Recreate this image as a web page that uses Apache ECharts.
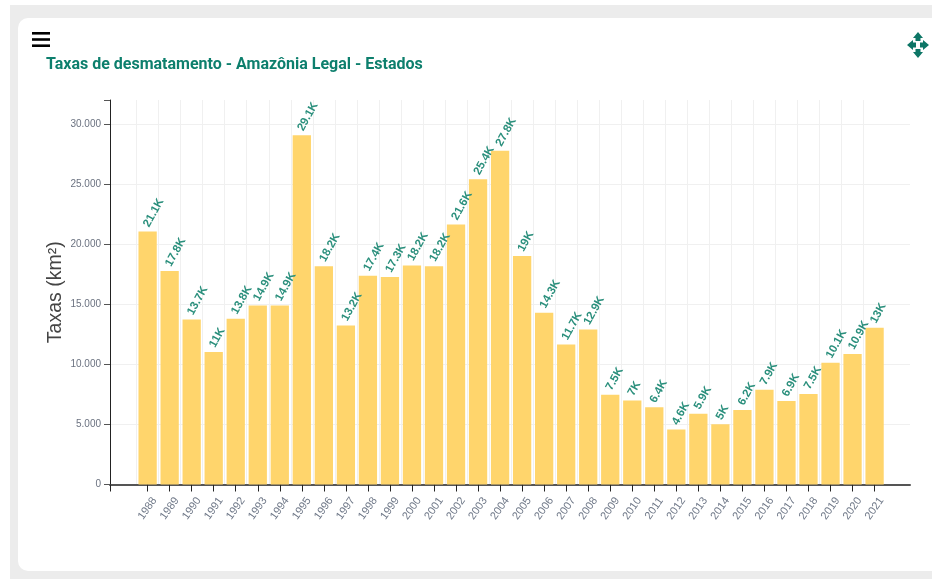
<!DOCTYPE html>
<html>
<head>
<meta charset="utf-8">
<style>
html,body{margin:0;padding:0;background:#fff;width:932px;height:579px;overflow:hidden}
#panel{position:absolute;left:10px;top:5px;width:922px;height:574px;background:#ececec}
#card{position:absolute;left:18px;top:18px;width:914px;height:553px;background:#fff;border-radius:10px 0 0 10px}
#chart{position:absolute;left:0;top:0;width:932px;height:579px}
</style>
<script src="https://cdn.jsdelivr.net/npm/echarts@6/dist/echarts.min.js"></script>
</head>
<body>
<div id="panel"></div>
<div id="card"></div>
<div id="chart"></div>
<script>
const years = ['1988','1989','1990','1991','1992','1993','1994','1995','1996','1997','1998','1999','2000','2001','2002','2003','2004','2005','2006','2007','2008','2009','2010','2011','2012','2013','2014','2015','2016','2017','2018','2019','2020','2021'];
const rates = [21050,17770,13730,11030,13790,14900,14900,29060,18160,13230,17380,17260,18230,18170,21640,25400,27770,19010,14290,11650,12910,7460,7000,6420,4570,5890,5010,6210,7890,6940,7540,10130,10860,13040];
const titleText = 'Taxas de desmatamento - Amazônia Legal - Estados';
const yAxisName = 'Taxas (km²)';

const kLabel = v => (v / 1000).toFixed(1).replace(/\.0$/, '') + 'K';
const dotLabel = v => v === 0 ? '0' : v === 32000 ? '' : String(v).replace(/(\d)(\d{3})$/, '$1.$2');

const chart = echarts.init(document.getElementById('chart'), null, {renderer: 'canvas'});
chart.setOption({
  animation: false,
  backgroundColor: 'transparent',
  title: {
    text: titleText, left: 46, top: 57, padding: 0,
    textStyle: {fontFamily: 'Roboto', fontSize: 16, fontWeight: 700, color: '#0d7f6d'}
  },
  grid: [
    {left: 136.6, top: 100, width: 749, height: 384.5},
    {left: 110, top: 100, width: 800, height: 384.5}
  ],
  xAxis: [
    {
      type: 'category', gridIndex: 0, data: years, boundaryGap: true,
      axisLine: {show: false},
      axisTick: {show: true, alignWithLabel: true, length: 7, lineStyle: {color: '#222', width: 1}},
      axisLabel: {interval: 0, rotate: 55, align: 'center', verticalAlign: 'middle', margin: 24, fontFamily: 'Liberation Sans', fontSize: 11, color: '#6f7888'},
      splitLine: {show: true, showMaxLine: false, lineStyle: {color: '#f0f0f0', width: 1}}
    },
    {
      type: 'value', gridIndex: 1, min: 0, max: 1,
      axisLine: {show: true, onZero: false, lineStyle: {color: '#555', width: 2}},
      axisTick: {show: true, customValues: [0], length: 7, lineStyle: {color: '#222', width: 1}},
      axisLabel: {show: false},
      splitLine: {show: false}
    }
  ],
  yAxis: [
    {
      type: 'value', gridIndex: 0, min: 0, max: 32000, interval: 5000,
      axisLine: {show: false}, axisTick: {show: false}, axisLabel: {show: false}, splitLine: {show: false}
    },
    {
      type: 'value', gridIndex: 1, min: 0, max: 32000, interval: 5000,
      name: yAxisName, nameLocation: 'middle', nameGap: 44, nameMoveOverlap: false, nameRotate: 90,
      nameTextStyle: {fontFamily: 'Liberation Sans', fontSize: 19.5, color: '#444'},
      axisLine: {show: true, lineStyle: {color: '#222', width: 1}},
      axisTick: {show: true, length: 6, lineStyle: {color: '#555', width: 1}},
      axisLabel: {margin: 9, fontFamily: 'Liberation Sans', fontSize: 10, color: '#6b7280', formatter: dotLabel},
      splitLine: {show: true, showMinLine: false, showMaxLine: false, lineStyle: {color: '#f0f0f0', width: 1}}
    }
  ],
  series: [{
    type: 'bar', xAxisIndex: 0, yAxisIndex: 0, data: rates, barWidth: '83%',
    itemStyle: {color: '#ffd56c'},
    label: {
      show: true, position: 'top', rotate: 61, align: 'left', verticalAlign: 'middle',
      distance: 8, offset: [-3, 0], fontFamily: 'Liberation Sans', fontSize: 11.5, fontWeight: 'bold', color: '#2a8f7c',
      formatter: p => kLabel(p.value)
    }
  }],
  graphic: [
    {type: 'rect', left: 32, top: 32, shape: {width: 18, height: 2.6}, style: {fill: '#000'}},
    {type: 'rect', left: 32, top: 38.2, shape: {width: 18, height: 2.6}, style: {fill: '#000'}},
    {type: 'rect', left: 32, top: 44.4, shape: {width: 18, height: 2.6}, style: {fill: '#000'}},
    {type: 'polygon', shape: {points: [[918,32],[923,38],[920.5,38],[920.5,41],[915.5,41],[915.5,38],[913,38]]}, style: {fill: '#0d7666'}},
    {type: 'polygon', shape: {points: [[918,58],[923,52],[920.5,52],[920.5,49],[915.5,49],[915.5,52],[913,52]]}, style: {fill: '#0d7666'}},
    {type: 'polygon', shape: {points: [[907,45],[913,40],[913,42.5],[916,42.5],[916,47.5],[913,47.5],[913,50]]}, style: {fill: '#0d7666'}},
    {type: 'polygon', shape: {points: [[929,45],[923,40],[923,42.5],[920,42.5],[920,47.5],[923,47.5],[923,50]]}, style: {fill: '#0d7666'}}
  ]
});
</script>
</body>
</html>
